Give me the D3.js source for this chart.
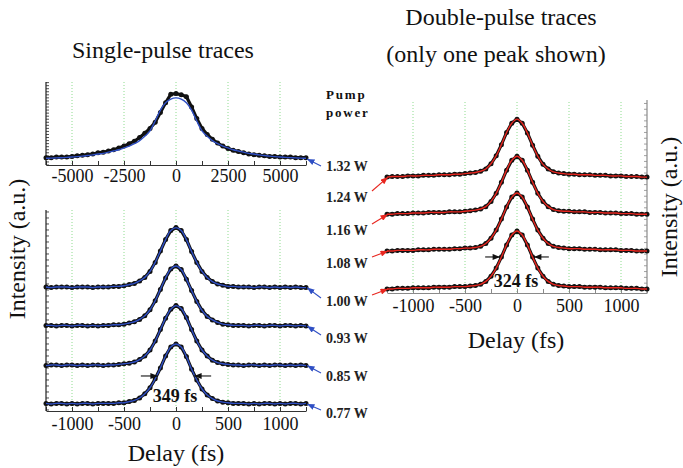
<!DOCTYPE html>
<html>
<head>
<meta charset="utf-8">
<script src="https://cdn.jsdelivr.net/npm/d3@7/dist/d3.min.js"></script>
<style>
  body { margin: 0; background: #fff; }
</style>
</head>
<body>
<svg id="chart" width="683" height="468" font-family="'Liberation Serif', 'DejaVu Serif', serif"></svg>
<script>
// delay axes (fs)
const delays = [-1250, -1200, -1150, -1100, -1050, -1000, -950, -900, -850, -800, -750, -700, -650,
  -600, -550, -500, -450, -400, -350, -300, -250, -200, -150, -100, -50, 0,
  50, 100, 150, 200, 250, 300, 350, 400, 450, 500, 550, 600,
  650, 700, 750, 800, 850, 900, 950, 1000, 1050, 1100, 1150, 1200, 1250];
const delaysWide = [-6250, -6000, -5750, -5500, -5250, -5000, -4750, -4500, -4250, -4000, -3750, -3500, -3250,
  -3000, -2750, -2500, -2250, -2000, -1750, -1500, -1250, -1000, -750, -500, -250, 0,
  250, 500, 750, 1000, 1250, 1500, 1750, 2000, 2250, 2500, 2750, 3000, 3250, 3500, 3750,
  4000, 4250, 4500, 4750, 5000, 5250, 5500, 5750, 6000, 6250];

// single pulse, 1.32 W (wide scan)
const single132 = [0.02, 0.02, 0.03, 0.03, 0.03, 0.04, 0.05, 0.06, 0.07, 0.08, 0.10, 0.11, 0.13,
  0.15, 0.18, 0.21, 0.25, 0.29, 0.35, 0.42, 0.50, 0.60, 0.76, 0.92, 1.06, 1.07,
  1.05, 1.02, 0.85, 0.66, 0.50, 0.40, 0.32, 0.26, 0.21, 0.17, 0.14, 0.12, 0.10, 0.08, 0.07,
  0.06, 0.05, 0.04, 0.04, 0.03, 0.03, 0.03, 0.02, 0.02, 0.02];
const single132Fit = [0.01, 0.013, 0.016, 0.02, 0.025, 0.03, 0.037, 0.045, 0.055, 0.065, 0.08, 0.09, 0.11,
  0.13, 0.15, 0.18, 0.21, 0.25, 0.30, 0.37, 0.46, 0.62, 0.80, 0.92, 0.98, 1.00,
  0.98, 0.92, 0.80, 0.62, 0.46, 0.37, 0.30, 0.25, 0.21, 0.18, 0.15, 0.13, 0.11, 0.09, 0.08,
  0.065, 0.055, 0.045, 0.037, 0.03, 0.025, 0.02, 0.016, 0.013, 0.01];

// single pulse traces
const single100 = [0.01, 0.00, 0.01, 0.01, 0.01, 0.00, 0.01, 0.01, 0.01, 0.00, 0.01, 0.01, 0.01,
  0.02, 0.02, 0.03, 0.05, 0.07, 0.11, 0.17, 0.27, 0.42, 0.61, 0.80, 0.95, 1.00,
  0.95, 0.80, 0.60, 0.42, 0.27, 0.17, 0.10, 0.06, 0.04, 0.02, 0.02, 0.01,
  0.01, 0.01, 0.00, 0.01, 0.01, 0.00, 0.01, 0.00, 0.01, 0.00, 0.01, 0.00, 0.00];
const single093 = [0.01, 0.01, 0.00, 0.01, 0.01, 0.00, 0.01, 0.01, 0.00, 0.01, 0.00, 0.01, 0.01,
  0.02, 0.02, 0.03, 0.05, 0.07, 0.11, 0.17, 0.27, 0.42, 0.61, 0.80, 0.95, 1.00,
  0.94, 0.78, 0.59, 0.41, 0.26, 0.16, 0.10, 0.06, 0.03, 0.02, 0.01, 0.01,
  0.01, 0.00, 0.01, 0.01, 0.00, 0.01, 0.01, 0.00, 0.01, 0.01, 0.00, 0.01, 0.00];
const single085 = [0.00, 0.01, 0.01, 0.00, 0.01, 0.01, 0.00, 0.01, 0.00, 0.01, 0.01, 0.00, 0.01,
  0.01, 0.02, 0.03, 0.04, 0.06, 0.10, 0.16, 0.26, 0.41, 0.60, 0.79, 0.94, 1.00,
  0.95, 0.80, 0.60, 0.41, 0.26, 0.16, 0.09, 0.05, 0.03, 0.02, 0.01, 0.01,
  0.00, 0.01, 0.01, 0.00, 0.01, 0.00, 0.01, 0.01, 0.00, 0.01, 0.00, 0.01, 0.00];
const single077 = [0.01, 0.00, 0.01, 0.01, 0.00, 0.01, 0.00, 0.01, 0.01, 0.00, 0.01, 0.01, 0.01,
  0.01, 0.02, 0.02, 0.04, 0.06, 0.10, 0.17, 0.27, 0.42, 0.60, 0.80, 0.95, 1.00,
  0.95, 0.79, 0.58, 0.40, 0.25, 0.15, 0.09, 0.05, 0.03, 0.02, 0.01, 0.01,
  0.01, 0.00, 0.01, 0.00, 0.01, 0.01, 0.00, 0.01, 0.00, 0.01, 0.01, 0.00, 0.01];

// double pulse traces (one peak)
const double124 = [0.00, 0.01, 0.01, 0.01, 0.02, 0.02, 0.02, 0.03, 0.03, 0.03, 0.04, 0.04, 0.04,
  0.05, 0.05, 0.06, 0.07, 0.08, 0.10, 0.14, 0.23, 0.37, 0.56, 0.77, 0.93, 1.00,
  0.93, 0.76, 0.55, 0.36, 0.22, 0.14, 0.09, 0.07, 0.06, 0.05, 0.05, 0.04,
  0.04, 0.04, 0.03, 0.03, 0.03, 0.02, 0.02, 0.02, 0.01, 0.01, 0.01, 0.00, 0.00];
const double116 = [0.00, 0.00, 0.01, 0.01, 0.01, 0.02, 0.02, 0.02, 0.03, 0.03, 0.03, 0.03, 0.04,
  0.04, 0.04, 0.05, 0.06, 0.07, 0.09, 0.13, 0.22, 0.36, 0.55, 0.76, 0.93, 1.00,
  0.93, 0.76, 0.55, 0.36, 0.22, 0.13, 0.08, 0.06, 0.05, 0.05, 0.04, 0.04,
  0.04, 0.03, 0.03, 0.03, 0.02, 0.02, 0.02, 0.01, 0.01, 0.01, 0.00, 0.00, 0.00];
const double108 = [0.00, 0.00, 0.01, 0.01, 0.01, 0.01, 0.02, 0.02, 0.02, 0.03, 0.03, 0.03, 0.03,
  0.04, 0.04, 0.05, 0.05, 0.06, 0.08, 0.13, 0.22, 0.36, 0.55, 0.76, 0.93, 1.00,
  0.93, 0.76, 0.55, 0.36, 0.22, 0.13, 0.08, 0.06, 0.05, 0.04, 0.04, 0.04,
  0.03, 0.03, 0.03, 0.02, 0.02, 0.02, 0.02, 0.01, 0.01, 0.01, 0.00, 0.00, 0.00];
const double100 = [0.00, 0.00, 0.01, 0.01, 0.01, 0.02, 0.02, 0.02, 0.02, 0.03, 0.03, 0.03, 0.03,
  0.04, 0.04, 0.04, 0.05, 0.06, 0.08, 0.13, 0.22, 0.36, 0.55, 0.76, 0.93, 1.00,
  0.93, 0.76, 0.55, 0.36, 0.22, 0.13, 0.08, 0.06, 0.05, 0.04, 0.04, 0.04,
  0.03, 0.03, 0.03, 0.03, 0.02, 0.02, 0.02, 0.02, 0.01, 0.01, 0.01, 0.00, 0.00];

const powerLabels = ['1.32 W', '1.24 W', '1.16 W', '1.08 W', '1.00 W', '0.93 W', '0.85 W', '0.77 W'];
const shortTicks = [-1000, -500, 0, 500, 1000];
const shortMinor = [-1250, -1000, -750, -500, -250, 0, 250, 500, 750, 1000, 1250];
const wideTicks = [-5000, -2500, 0, 2500, 5000];
const wideMinor = [-6250, -5000, -3750, -2500, -1250, 0, 1250, 2500, 3750, 5000, 6250];
const fwhmSingle = 349;
const fwhmDouble = 324;

const serif = "'Liberation Serif', 'DejaVu Serif', serif";
const svg = d3.select('#chart');
const blue = '#2f4fc4';
const red = '#e8261f';
const grid = '#8edc8e';

// arrow heads
const defs = svg.append('defs');
[['arrBlue', blue], ['arrRed', red], ['arrBlack', '#111']].forEach(([id, c]) => {
  defs.append('marker')
    .attr('id', id)
    .attr('viewBox', '0 0 10 8')
    .attr('refX', 10).attr('refY', 4)
    .attr('markerWidth', 8).attr('markerHeight', 6)
    .attr('markerUnits', 'userSpaceOnUse')
    .attr('orient', 'auto')
    .append('path').attr('d', 'M0,0 L10,4 L0,8 Z').attr('fill', c);
});

// scales
const xWide = d3.scaleLinear().domain([-6250, 6250]).range([46, 306]);
const yWide = d3.scaleLinear().domain([-0.1, 1.26]).range([165, 82]);
const xSingle = d3.scaleLinear().domain([-1250, 1250]).range([46, 306]);
const ySingle = d3.scaleLinear().domain([-0.117, 3.233]).range([411, 210]);
const xDouble = d3.scaleLinear().domain([-1250, 1250]).range([387, 647]);
const yDouble = d3.scaleLinear().domain([-0.07, 3.26]).range([293, 100]);

function label(x, y, txt, size, opts = {}) {
  const t = svg.append('text')
    .attr('x', x).attr('y', y)
    .attr('font-family', serif)
    .attr('font-size', size)
    .attr('fill', opts.fill || '#111')
    .attr('text-anchor', opts.anchor || 'start')
    .text(txt);
  if (opts.bold) t.attr('font-weight', 'bold');
  if (opts.spacing) t.attr('letter-spacing', opts.spacing);
  if (opts.rotate) t.attr('transform', `rotate(-90,${x},${y})`);
  return t;
}

function drawGrid(x, ticks, y0, y1) {
  svg.append('g').selectAll('line')
    .data(ticks)
    .enter()
    .append('line')
    .attr('x1', d => x(d)).attr('x2', d => x(d))
    .attr('y1', y0).attr('y2', y1)
    .attr('stroke', grid)
    .attr('stroke-width', 1)
    .attr('stroke-dasharray', '1,2');
}

function drawBottomAxis(x, y, major, minor, pad, color) {
  const axis = d3.axisBottom(x)
    .tickValues(minor)
    .tickSizeInner(-4)
    .tickSizeOuter(0)
    .tickPadding(pad)
    .tickFormat(d => (major.includes(d) ? String(d) : ''));
  const g = svg.append('g')
    .attr('transform', `translate(0,${y})`)
    .call(axis);
  g.attr('font-family', serif).attr('font-size', 18).attr('color', color);
  g.selectAll('text').attr('fill', '#111');
}

function drawSideAxis(x, y, yTop, yBot, dir, color) {
  svg.append('line')
    .attr('x1', x).attr('x2', x)
    .attr('y1', yTop).attr('y2', yBot)
    .attr('stroke', color).attr('stroke-width', 1.2);
  const ticks = y.ticks(34).filter(d => y(d) <= yBot && y(d) >= yTop);
  svg.append('g').selectAll('line')
    .data(ticks)
    .enter()
    .append('line')
    .attr('x1', x).attr('x2', x + dir * 3)
    .attr('y1', d => y(d)).attr('y2', d => y(d))
    .attr('stroke', color).attr('stroke-width', 0.8);
}

function drawTrace(x, y, xs, vals, offset, color, fitVals) {
  const g = svg.append('g');
  const pts = xs.map((d, i) => [x(d), y(vals[i] + offset)]);
  g.append('path')
    .attr('d', d3.line()(pts))
    .attr('fill', 'none')
    .attr('stroke', '#111')
    .attr('stroke-width', 3.2);
  g.selectAll('circle')
    .data(pts)
    .enter()
    .append('circle')
    .attr('cx', d => d[0])
    .attr('cy', d => d[1])
    .attr('r', 2.5)
    .attr('fill', '#111');
  const fit = (fitVals || vals).map((v, i) => [x(xs[i]), y(v + offset)]);
  g.append('path')
    .attr('d', d3.line().curve(d3.curveCatmullRom)(fit))
    .attr('fill', 'none')
    .attr('stroke', color)
    .attr('stroke-width', 1.4);
}

function arrow(x1, y1, x2, y2, color, marker) {
  svg.append('line')
    .attr('x1', x1).attr('y1', y1)
    .attr('x2', x2).attr('y2', y2)
    .attr('stroke', color).attr('stroke-width', 1.1)
    .attr('marker-end', `url(#${marker})`);
}

// ---- grids & axes
drawGrid(xWide, wideTicks, 82, 165);
drawGrid(xSingle, shortTicks, 210, 411);
drawGrid(xDouble, shortTicks, 102, 293);

drawBottomAxis(xWide, 165, wideTicks, wideMinor, 4, '#333');
drawBottomAxis(xSingle, 411, shortTicks, shortMinor, 6, '#333');
drawBottomAxis(xDouble, 293, shortTicks, shortMinor, 6, '#8a8a8a');

drawSideAxis(46, yWide, 82, 165, 1, '#222');
drawSideAxis(46, ySingle, 210, 411, 1, '#222');
drawSideAxis(647, yDouble, 100, 293, -1, '#8a8a8a');

// ---- traces
const singleOffsets = [1.94, 1.30, 0.64, 0];
const doubleOffsets = [1.93, 1.29, 0.655, 0];

drawTrace(xWide, yWide, delaysWide, single132, 0, blue, single132Fit);
[single100, single093, single085, single077].forEach((vals, i) => {
  drawTrace(xSingle, ySingle, delays, vals, singleOffsets[i], blue);
});
[double124, double116, double108, double100].forEach((vals, i) => {
  drawTrace(xDouble, yDouble, delays, vals, doubleOffsets[i], red);
});

// ---- pump power labels and arrows
const labelY = [171, 202, 235, 268, 306, 343, 381, 418];
label(326, 99, 'Pump', 13, { bold: true, spacing: 1.8 });
label(326, 117, 'power', 13, { bold: true, spacing: 1.8 });
powerLabels.forEach((p, i) => label(326, labelY[i], p, 14, { bold: true, fill: '#222' }));

// blue arrows to the single-pulse trace ends
arrow(321, labelY[0] - 5, xWide(6250) + 1, yWide(0), blue, 'arrBlue');
[4, 5, 6, 7].forEach((li, i) => {
  arrow(321, labelY[li] - 8, xSingle(1250) + 1, ySingle(singleOffsets[i]), blue, 'arrBlue');
});
// red arrows to the double-pulse trace starts
[1, 2, 3, 4].forEach((li, i) => {
  arrow(372, labelY[li] - 11, xDouble(-1250) + 1, yDouble(doubleOffsets[i]), red, 'arrRed');
});

// FWHM markers
const halfS = ySingle(0.5 + singleOffsets[3]) + 2;
arrow(xSingle(-fwhmSingle / 2) - 17, halfS, xSingle(-fwhmSingle / 2), halfS, '#111', 'arrBlack');
arrow(xSingle(fwhmSingle / 2) + 17, halfS, xSingle(fwhmSingle / 2), halfS, '#111', 'arrBlack');
label(xSingle(0) - 1, 402, `${fwhmSingle} fs`, 18, { bold: true, anchor: 'middle' });

const halfD = yDouble(0.5 + doubleOffsets[3]) - 3;
arrow(xDouble(-fwhmDouble / 2) - 15, halfD, xDouble(-fwhmDouble / 2), halfD, '#111', 'arrBlack');
arrow(xDouble(fwhmDouble / 2) + 15, halfD, xDouble(fwhmDouble / 2), halfD, '#111', 'arrBlack');
label(xDouble(0) - 1, 287, `${fwhmDouble} fs`, 18, { bold: true, anchor: 'middle' });

// ---- titles and axis labels
label(163, 58, 'Single-pulse traces', 24, { anchor: 'middle' });
label(501, 25, 'Double-pulse traces', 24, { anchor: 'middle' });
label(496, 62, '(only one peak shown)', 24, { anchor: 'middle' });

label(176, 461, 'Delay (fs)', 24, { anchor: 'middle' });
label(516, 348, 'Delay (fs)', 24, { anchor: 'middle' });

label(25, 249, 'Intensity (a.u.)', 24, { anchor: 'middle', rotate: true });
label(677, 207, 'Intensity (a.u.)', 24, { anchor: 'middle', rotate: true });
</script>
</body>
</html>
